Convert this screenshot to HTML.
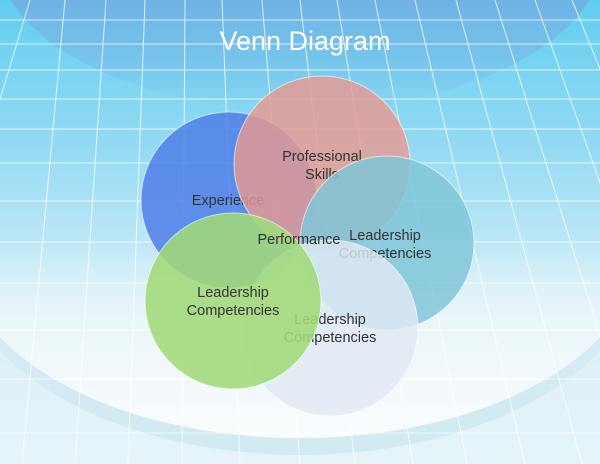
<!DOCTYPE html>
<html><head><style>
html,body{margin:0;padding:0;width:600px;height:464px;overflow:hidden}
text{font-family:"Liberation Sans",Arial,sans-serif}
</style></head><body>
<svg width="600" height="464" viewBox="0 0 600 464" xmlns="http://www.w3.org/2000/svg">
<defs>
<linearGradient id="bg" x1="0" y1="0" x2="0" y2="1">
<stop offset="0" stop-color="#62cdf0"/>
<stop offset="0.35" stop-color="#9adcf3"/>
<stop offset="0.65" stop-color="#d8f0f8"/>
<stop offset="1" stop-color="#e6f4f9"/>
</linearGradient>
<linearGradient id="wh" x1="0" y1="0" x2="0" y2="1">
<stop offset="0.5" stop-color="#f4fafd" stop-opacity="0"/>
<stop offset="0.75" stop-color="#f2f9fc" stop-opacity="0.85"/>
<stop offset="1" stop-color="#fafdfe"/>
</linearGradient>
<linearGradient id="band" x1="0" y1="0" x2="0" y2="1">
<stop offset="0.55" stop-color="#d2eaf2" stop-opacity="0"/>
<stop offset="0.8" stop-color="#d2eaf2" stop-opacity="0.9"/>
<stop offset="1" stop-color="#d2eaf2"/>
</linearGradient>
<linearGradient id="top" x1="0" y1="0" x2="0" y2="1">
<stop offset="0.5" stop-color="#7a9fdc" stop-opacity="0.85"/>
<stop offset="1" stop-color="#7a9fdc" stop-opacity="0"/>
</linearGradient>
</defs>
<rect width="600" height="464" fill="url(#bg)"/>
<ellipse cx="300" cy="-50" rx="305" ry="160" fill="url(#top)"/>
<ellipse cx="300" cy="250" rx="345" ry="205" fill="url(#band)"/>
<ellipse cx="300" cy="248" rx="340" ry="190" fill="url(#wh)"/>
<g stroke="#ffffff" stroke-opacity="0.75" stroke-width="1">
<line x1="0" y1="20" x2="600" y2="20"/>
<line x1="0" y1="44" x2="600" y2="44"/>
<line x1="0" y1="70" x2="600" y2="70"/>
<line x1="0" y1="99" x2="600" y2="99"/>
<line x1="0" y1="129" x2="600" y2="129"/>
<line x1="0" y1="163" x2="600" y2="163"/>
<line x1="0" y1="201" x2="600" y2="201"/>
<line x1="0" y1="242" x2="600" y2="242"/>
<line x1="0" y1="283" x2="600" y2="283"/>
<line x1="0" y1="330" x2="600" y2="330"/>
<line x1="0" y1="379" x2="600" y2="379"/>
<line x1="0" y1="433" x2="600" y2="433"/>
<line x1="30" y1="0" x2="-110" y2="464"/>
<line x1="65" y1="0" x2="22" y2="464"/>
<line x1="106" y1="0" x2="75" y2="464"/>
<line x1="145" y1="0" x2="128" y2="464"/>
<line x1="185" y1="0" x2="182" y2="464"/>
<line x1="222" y1="0" x2="240" y2="464"/>
<line x1="262" y1="0" x2="300" y2="464"/>
<line x1="300" y1="0" x2="355" y2="464"/>
<line x1="337" y1="0" x2="413" y2="464"/>
<line x1="375" y1="0" x2="467" y2="464"/>
<line x1="415" y1="0" x2="525" y2="464"/>
<line x1="456" y1="0" x2="582" y2="464"/>
<line x1="495" y1="0" x2="640" y2="464"/>
<line x1="535" y1="0" x2="700" y2="464"/>
<line x1="572" y1="0" x2="760" y2="464"/>
</g>
<text x="305" y="50" font-size="27" fill="#ffffff" text-anchor="middle">Venn  Diagram</text>
<g font-size="14.5" fill="#333" text-anchor="middle">
<circle cx="229" cy="200" r="88" fill="#4f7fe6" fill-opacity="0.85" stroke="#fff" stroke-opacity="0.6"/>
<text x="228" y="205">Experience</text>
<circle cx="322" cy="164" r="88" fill="#e79a92" fill-opacity="0.82" stroke="#fff" stroke-opacity="0.6"/>
<text x="322" y="161">Professional</text>
<text x="322" y="179">Skills</text>
<circle cx="387" cy="243" r="87" fill="#80c6d8" fill-opacity="0.85" stroke="#fff" stroke-opacity="0.6"/>
<text x="385" y="240">Leadership</text>
<text x="385" y="258">Competencies</text>
<circle cx="330" cy="328" r="88" fill="#e0e9f3" fill-opacity="0.82" stroke="#fff" stroke-opacity="0.6"/>
<text x="330" y="324">Leadership</text>
<text x="330" y="342">Competencies</text>
<circle cx="233" cy="301" r="88" fill="#a2d979" fill-opacity="0.88" stroke="#fff" stroke-opacity="0.6"/>
<text x="233" y="297">Leadership</text>
<text x="233" y="315">Competencies</text>
<text x="299" y="244">Performance</text>
</g>
</svg>
</body></html>
